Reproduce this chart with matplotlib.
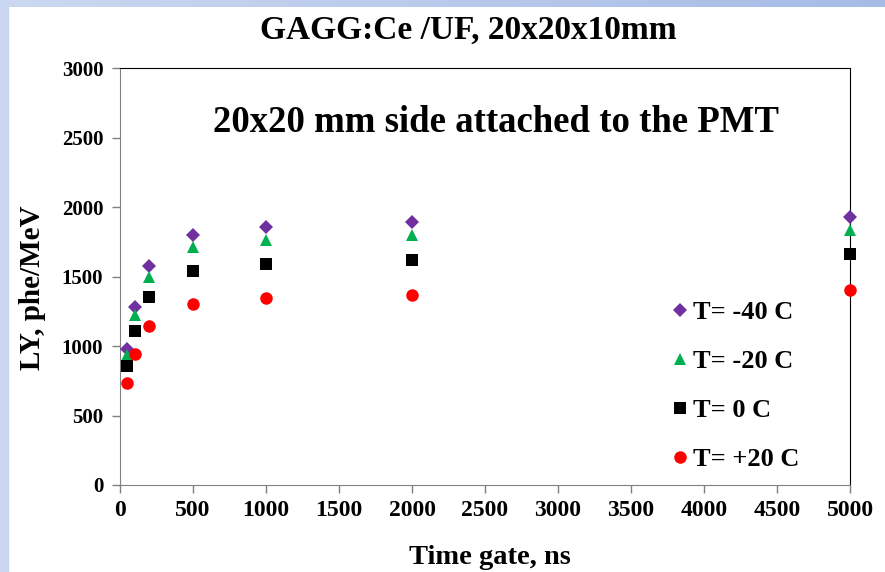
import numpy as np
import matplotlib.pyplot as plt

# data
gate_ns = [50, 100, 200, 500, 1000, 2000, 5000]
ly_m40 = [978, 1280, 1575, 1798, 1856, 1892, 1928]
ly_m20 = [935, 1223, 1496, 1712, 1763, 1798, 1835]
ly_0 = [856, 1108, 1353, 1540, 1590, 1619, 1662]
ly_p20 = [734, 942, 1144, 1302, 1345, 1367, 1403]

series = [
    ("T= -40 C", ly_m40, "D", "#7030a0", 7.5),
    ("T= -20 C", ly_m20, "^", "#00b050", 9),
    ("T= 0 C", ly_0, "s", "black", 8.5),
    ("T= +20 C", ly_p20, "o", "red", 9),
]

plt.rcParams['font.family'] = ['Liberation Serif', 'DejaVu Serif']
plt.rcParams['font.weight'] = 'bold'

fig = plt.figure(figsize=(8.85, 5.72), dpi=100)

# light blue slide border (top and left)
bg = fig.add_axes([0, 0, 1, 1], zorder=-10)
grad = np.linspace(0, 1, 256).reshape(1, -1)
cmap = plt.matplotlib.colors.LinearSegmentedColormap.from_list("b", ["#cbd8f0", "#a6bce6"])
bg.imshow(grad, extent=[0, 1, 1 - 7 / 572, 1], aspect='auto', cmap=cmap, transform=bg.transAxes)
bg.add_patch(plt.Rectangle((0, 0), 8 / 885, 1, color="#c8d6f0", transform=bg.transAxes))
bg.set_xlim(0, 1)
bg.set_ylim(0, 1)
bg.axis('off')

ax = fig.add_axes([120 / 885, 1 - 485 / 572, 730 / 885, 417 / 572])
for label, vals, m, c, ms in series:
    ax.plot(gate_ns, vals, linestyle='none', marker=m, color=c, markersize=ms,
            markeredgewidth=0, label=label, clip_on=False, zorder=5)

ax.set_xlim(0, 5000)
ax.set_ylim(0, 3000)
ax.set_xticks(np.arange(0, 5001, 500))
ax.set_yticks(np.arange(0, 3001, 500))
ax.tick_params(axis='both', color='#808080', length=6, width=1)
ax.tick_params(axis='x', labelsize=17, pad=5)
ax.tick_params(axis='y', labelsize=15, pad=6)
for s in ['left', 'bottom']:
    ax.spines[s].set_color('#808080')
for s in ['right', 'top']:
    ax.spines[s].set_color('black')

ax.set_xlabel("Time gate, ns", fontsize=20.5, fontweight='bold')
ax.set_ylabel("LY, phe/MeV", fontsize=21, fontweight='bold')
ax.xaxis.set_label_coords((490 - 120) / 730, -(545 - 485) / 417)
ax.yaxis.set_label_coords(-(120 - 46) / 730, (485 - 288) / 417)
fig.text(468 / 885, 1 - 30 / 572, "GAGG:Ce /UF, 20x20x10mm", ha='center', va='center',
         fontsize=24, fontweight='bold')
ax.text(496 / 885, 1 - 122 / 572, "20x20 mm side attached to the PMT", transform=fig.transFigure,
        ha='center', va='center', fontsize=26.5, fontweight='bold')

ax.legend(loc='upper left', bbox_to_anchor=(516 / 730, (485 - 277) / 417), frameon=False,
          handletextpad=-0.23, labelspacing=0.97, handlelength=1.5,
          prop={'size': 19, 'weight': 'bold'})

fig.savefig("out.png", dpi=100)
